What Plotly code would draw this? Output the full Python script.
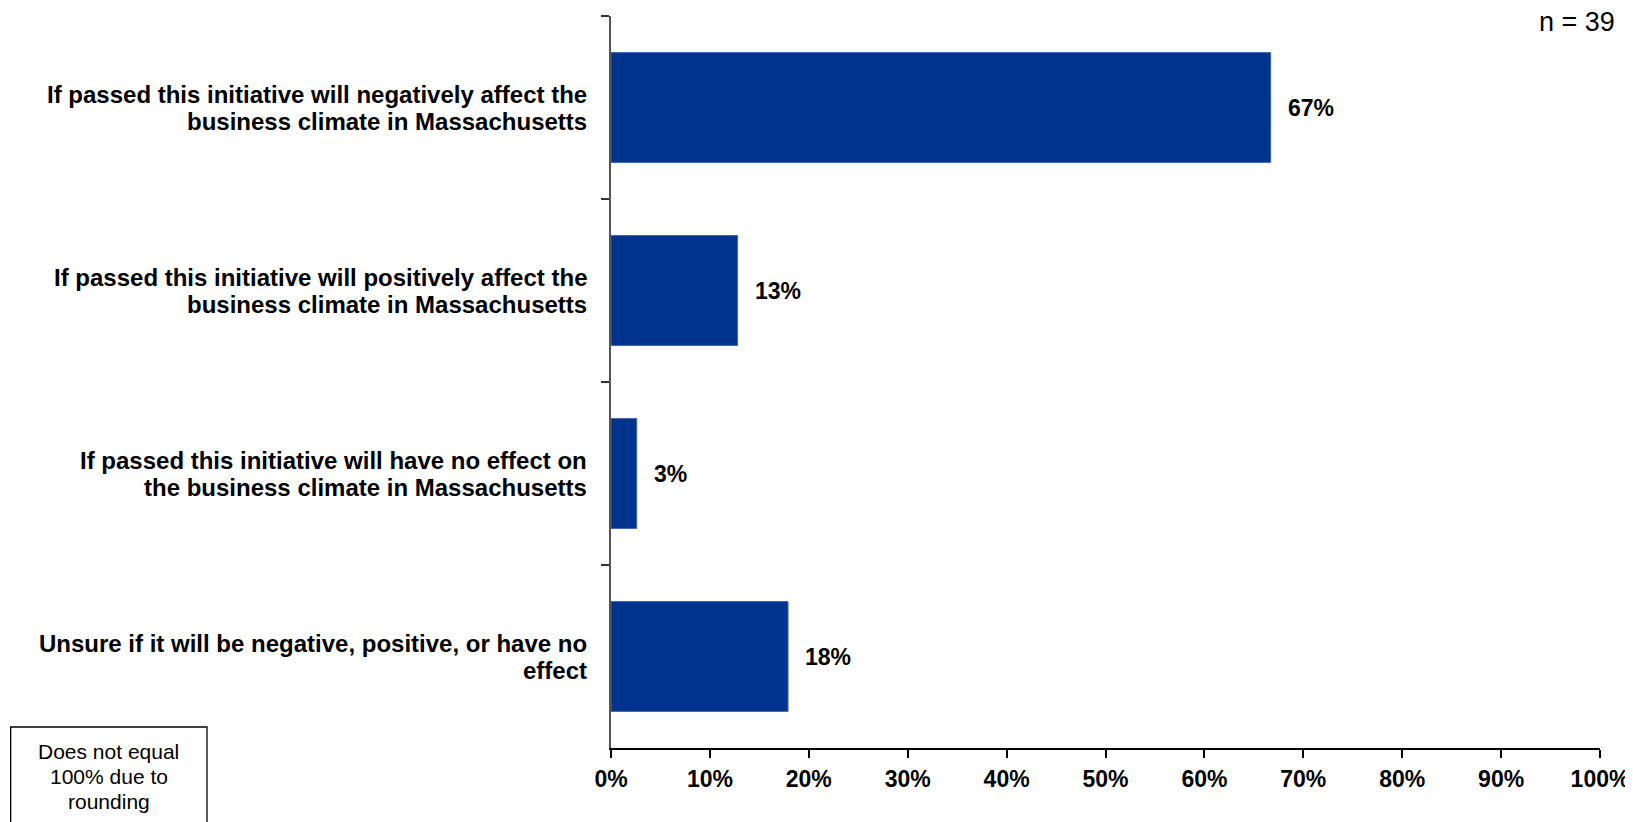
import plotly.graph_objects as go

categories = [
    "If passed this initiative will negatively affect the<br>business climate in Massachusetts",
    "If passed this initiative will positively affect the<br>business climate in Massachusetts",
    "If passed this initiative will have no effect on<br>the business climate in Massachusetts",
    "Unsure if it will be negative, positive, or have no<br>effect",
]
values = [66.7, 12.8, 2.6, 17.9]
labels = [f"{round(v)}%" for v in values]
x_ticks = list(range(0, 101, 10))
x_tick_text = [f"{t}%" for t in x_ticks]
sample_note = "n = 39"
rounding_note = ["Does not equal", "100% due to", "rounding"]

FONT = "Liberation Sans, Arial, sans-serif"
BAR = "#00338D"

fig = go.Figure()
fig.add_trace(go.Bar(
    x=values, y=categories, orientation="h",
    marker=dict(color=BAR, line=dict(color="#3F63B0", width=1)),
    width=0.6, hoverinfo="skip",
))

# category labels (two tight lines each)
for cat in categories:
    lines = cat.split("<br>")
    n = len(lines)
    for i, line in enumerate(lines):
        fig.add_annotation(xref="paper", yref="y", x=0, y=cat, text=f"<b>{line}</b>",
                           showarrow=False, xanchor="right", yanchor="middle",
                           xshift=-22, yshift=13.5 * (n - 1) - 27 * i,
                           font=dict(family=FONT, size=24, color="black"))

for v, lab, cat in zip(values, labels, categories):
    fig.add_annotation(x=v, y=cat, text=f"<b>{lab}</b>", showarrow=False,
                       xanchor="left", yanchor="middle", xshift=15,
                       font=dict(family=FONT, size=23, color="black"))

fig.add_annotation(xref="paper", yref="paper", x=1.0172, y=0.9918, text=sample_note,
                   showarrow=False, xanchor="right", yanchor="middle",
                   font=dict(family=FONT, size=27, color="black"))

fig.add_shape(type="rect", xref="paper", yref="paper",
              x0=-0.607, x1=-0.4085, y0=0.0287, y1=-0.2,
              line=dict(color="black", width=1.3), fillcolor="white")
for i, line in enumerate(rounding_note):
    fig.add_annotation(xref="paper", yref="paper", x=-0.5076, y=-0.0396, text=line,
                       showarrow=False, xanchor="center", yanchor="middle",
                       yshift=25 - 25 * i,
                       font=dict(family=FONT, size=21, color="black"))

fig.update_layout(
    width=1633, height=822,
    margin=dict(l=603, r=41, t=8, b=82),
    paper_bgcolor="white", plot_bgcolor="white",
    showlegend=False, bargap=0.4,
    font=dict(family=FONT, color="black"),
)
fig.update_xaxes(
    range=[0, 100], tickvals=x_ticks, ticktext=[f"<b>{t}</b>" for t in x_tick_text],
    showgrid=False, zeroline=False, showline=True, linecolor="black", linewidth=1.5,
    ticks="outside", ticklen=8, tickcolor="black", tickwidth=1.5,
    tickfont=dict(family=FONT, size=23, color="black"), ticklabelstandoff=2,
)
fig.update_yaxes(
    categoryorder="array", categoryarray=categories, autorange="reversed",
    tickson="boundaries", ticks="outside", ticklen=8, tickcolor="#333", tickwidth=1.5,
    showgrid=False, zeroline=False, showline=True, linecolor="#555", linewidth=1.5,
    showticklabels=False,
)

fig.write_html("out.html")
